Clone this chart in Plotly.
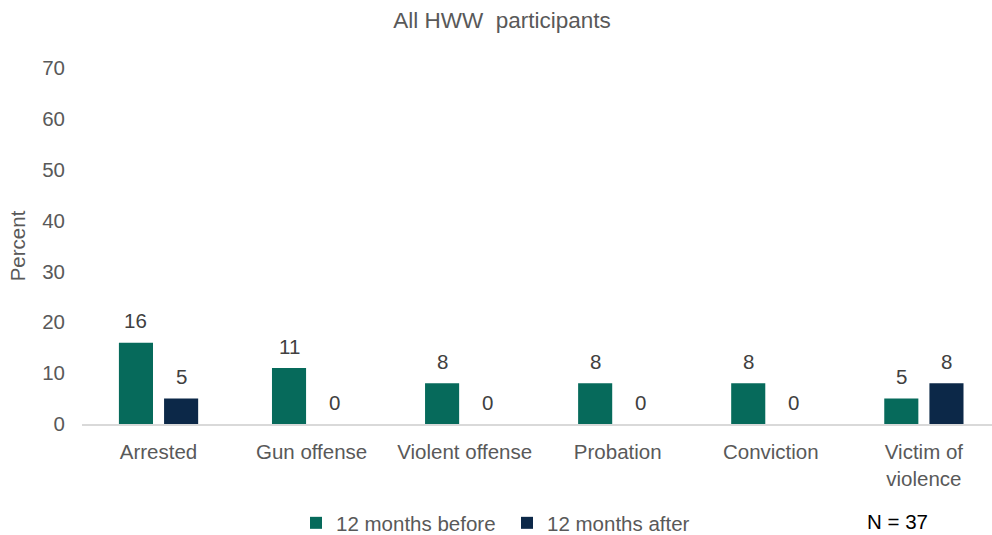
import plotly.graph_objects as go

# Share of participants with each outcome, before vs. after the program
categories = ["Arrested", "Gun offense", "Violent offense", "Probation", "Conviction", "Victim of<br>violence"]
before_pct = [16, 11, 8, 8, 8, 5]
after_pct = [5, 0, 0, 0, 0, 8]
series_names = ["12 months before", "12 months after"]
y_ticks = [0, 10, 20, 30, 40, 50, 60, 70]

TEAL = "#066a5b"
NAVY = "#0c2848"
GREY = "#595959"
FONT = "Liberation Sans, Arial, sans-serif"
FS = 20.5
BARGAP = 0.41
W, H = 992, 535

fig = go.Figure()
series = [(series_names[0], before_pct, TEAL), (series_names[1], after_pct, NAVY)]
for name, vals, color in series:
    fig.add_trace(go.Bar(
        x=list(range(len(categories))), y=vals, name=name,
        marker=dict(color=color, line=dict(width=0)),
    ))

# value labels above each bar (centered on the bar within its group)
slot = (1 - BARGAP) / len(series)
annotations = []
for k, (name, vals, color) in enumerate(series):
    offset = (k - (len(series) - 1) / 2) * slot
    for i, v in enumerate(vals):
        annotations.append(dict(
            x=i + offset, y=v, xref="x", yref="y", text=str(v), showarrow=False,
            xanchor="center", yanchor="middle", yshift=22,
            font=dict(size=FS, color="#404040", family=FONT),
        ))

annotations.append(dict(text="N = 37", x=(897 - 82) / 910, y=(424 - 521) / 356,
                        xref="paper", yref="paper", xanchor="center", yanchor="middle",
                        showarrow=False, font=dict(size=FS, color="#000000", family=FONT)))

fig.update_layout(
    width=W, height=H,
    margin=dict(l=82, r=0, t=68, b=111),
    paper_bgcolor="white", plot_bgcolor="white",
    barmode="group", bargap=BARGAP, bargroupgap=0.245,
    font=dict(family=FONT, size=FS, color=GREY),
    title=dict(text="All HWW&nbsp; participants", x=502 / W, xref="container", xanchor="center",
               y=1 - 20 / H, yanchor="middle", font=dict(size=22.5, color=GREY)),
    showlegend=True,
    legend=dict(orientation="h", xref="container", yref="container",
                x=296 / W, xanchor="left", y=(H - 523) / H, yanchor="middle",
                font=dict(size=FS, color=GREY), traceorder="normal",
                itemwidth=30, entrywidth=166, entrywidthmode="pixels"),
    xaxis=dict(range=[-0.5, 5.445], tickvals=list(range(len(categories))), ticktext=categories,
               showgrid=False, showline=True, linecolor="#d9d9d9", zeroline=False, automargin=False,
               linewidth=1.5, ticks="", ticklabelstandoff=9, tickfont=dict(size=FS, color=GREY)),
    yaxis=dict(range=[0, 70], tickvals=y_ticks, showgrid=False, zeroline=False, showline=False,
               automargin=False,
               ticks="", ticklabelstandoff=16, tickfont=dict(size=FS, color=GREY),
               title=dict(text="Percent", font=dict(size=FS, color=GREY), standoff=11)),
    annotations=annotations,
)

fig.write_html("out.html")
